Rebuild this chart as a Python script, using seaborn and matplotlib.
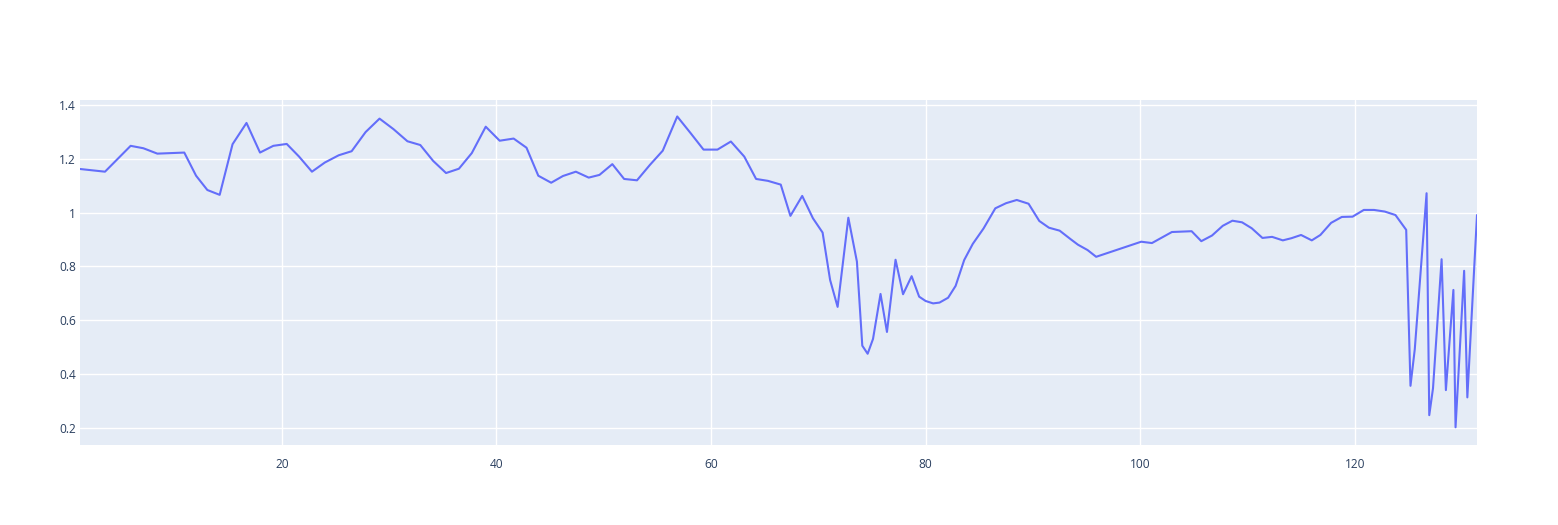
import pandas as pd
import matplotlib
matplotlib.use("Agg")
import matplotlib.pyplot as plt
import seaborn as sns
from matplotlib.ticker import FuncFormatter, MultipleLocator


# -----------------------------
# 1. Data
# -----------------------------
x_vals = [
    1.18, 3.51, 5.9, 7.09, 8.39, 10.9, 12.0, 13.05, 14.2, 15.4,
    16.7, 17.96, 19.2, 20.45, 21.6, 22.8, 24.0, 25.3, 26.5, 27.8,
    29.1, 30.4, 31.7, 32.9, 34.1, 35.3, 36.5, 37.7, 39.0, 40.3,
    41.6, 42.8, 43.9, 45.1, 46.2, 47.4, 48.6, 49.6, 50.8, 51.9,
    53.1, 54.3, 55.5, 56.85, 58.1, 59.3, 60.6, 61.85, 63.1, 64.2,
    65.3, 66.5, 67.4, 68.5, 69.5, 70.4, 71.1, 71.8, 72.8, 73.6,
    74.1, 74.6, 75.1, 75.8, 76.4, 77.2, 77.9, 78.7, 79.4, 80.0,
    80.7, 81.3, 82.1, 82.8, 83.6, 84.4, 85.4, 86.5, 87.5, 88.5,
    89.6, 90.6, 91.5, 92.5, 93.5, 94.2, 95.1, 95.9, 100.1, 101.1,
    102.96, 104.8, 105.7, 106.7, 107.7, 108.6, 109.5, 110.4, 111.4, 112.3,
    113.3, 114.1, 115.0, 116.0, 116.8, 117.8, 118.8, 119.8, 120.85, 121.8,
    122.8, 123.8, 124.8, 125.2, 125.6, 126.7, 126.95, 127.3, 128.1, 128.5,
    129.2, 129.4, 130.2, 130.5, 131.4,
]

y_vals = [
    1.162, 1.152, 1.248, 1.239, 1.219, 1.223, 1.137, 1.084, 1.066, 1.254,
    1.333, 1.223, 1.248, 1.255, 1.208, 1.152, 1.186, 1.213, 1.228, 1.299,
    1.349, 1.310, 1.265, 1.251, 1.192, 1.147, 1.163, 1.221, 1.319, 1.267,
    1.275, 1.241, 1.137, 1.111, 1.136, 1.152, 1.130, 1.140, 1.180, 1.125,
    1.120, 1.177, 1.230, 1.357, 1.295, 1.234, 1.234, 1.264, 1.208, 1.125,
    1.118, 1.104, 0.988, 1.062, 0.979, 0.926, 0.750, 0.650, 0.981, 0.818,
    0.506, 0.476, 0.531, 0.698, 0.557, 0.825, 0.697, 0.764, 0.688, 0.672,
    0.663, 0.666, 0.684, 0.728, 0.824, 0.884, 0.941, 1.016, 1.035, 1.047,
    1.033, 0.969, 0.944, 0.933, 0.902, 0.881, 0.861, 0.836, 0.892, 0.887,
    0.928, 0.931, 0.894, 0.915, 0.951, 0.970, 0.964, 0.942, 0.906, 0.910,
    0.897, 0.905, 0.917, 0.897, 0.917, 0.962, 0.984, 0.985, 1.010, 1.010,
    1.004, 0.991, 0.936, 0.357, 0.493, 1.072, 0.248, 0.348, 0.827, 0.341,
    0.713, 0.203, 0.784, 0.314, 0.991,
]

y_ticks = [0.2, 0.4, 0.6, 0.8, 1.0, 1.2, 1.4]

df = pd.DataFrame({"x": x_vals, "y": y_vals})


# -----------------------------
# 2. Style (plotly-like)
# -----------------------------
sns.set_theme(style="darkgrid", rc={
    "axes.facecolor": "#E5ECF6",
    "grid.color": "white",
    "grid.linewidth": 1.0,
    "axes.edgecolor": "#E5ECF6",
})
plt.rcParams["font.family"] = ["Open Sans", "DejaVu Sans"]

W, H = 1558, 525
fig = plt.figure(figsize=(W / 100, H / 100), dpi=100)
ax = fig.add_axes([80 / W, 80 / H, (1477 - 80) / W, (445 - 100) / H])


# -----------------------------
# 3. Line
# -----------------------------
sns.lineplot(data=df, x="x", y="y", ax=ax, color="#636EFA",
             linewidth=1.5, sort=False)

span = max(y_vals) - min(y_vals)
ax.set_xlim(min(x_vals), max(x_vals))
ax.set_ylim(min(y_vals) - 0.057 * span, max(y_vals) + 0.053 * span)

ax.xaxis.set_major_locator(MultipleLocator(20))
ax.set_yticks(y_ticks)
ax.yaxis.set_major_formatter(FuncFormatter(lambda v, p: f"{v:g}"))

ax.set_xlabel("")
ax.set_ylabel("")
ax.tick_params(axis="both", length=0, labelsize=8.6, colors="#2a3f5f")
ax.tick_params(axis="x", pad=9)
ax.tick_params(axis="y", pad=3)
for s in ax.spines.values():
    s.set_visible(False)

fig.savefig("out.png", dpi=100, facecolor="white")
